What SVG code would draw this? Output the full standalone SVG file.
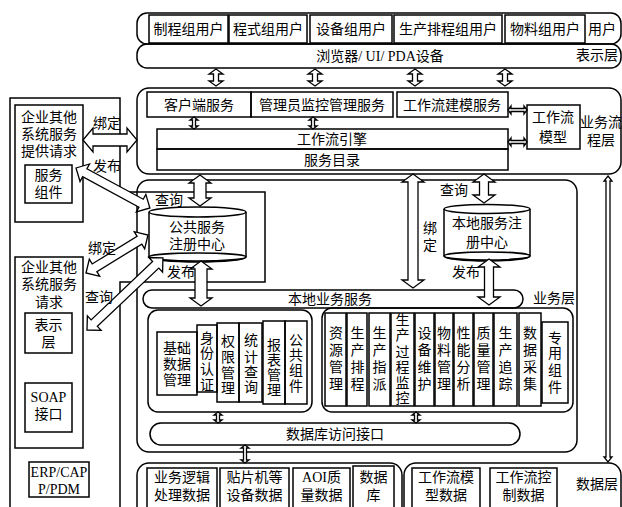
<svg xmlns="http://www.w3.org/2000/svg" width="622" height="507" viewBox="0 0 622 507">
<style>
.b{fill:none;stroke:#000;stroke-width:1.5}
.w{fill:#fff;stroke:#000;stroke-width:1.5}
.ar{fill:#fff;stroke:#000;stroke-width:1.3;stroke-linejoin:miter}
text{font-family:"Liberation Serif","Noto Sans CJK SC",sans-serif;font-size:14px;fill:#000}
.c{text-anchor:middle}
</style>
<rect width="622" height="507" fill="#fff"/>

<!-- left external panel outline -->
<g id="external-panel">
<path class="b" d="M10,98 H120 V192 H265 V282 H120 V515 H10 Z"/>
</g>

<!-- presentation / user layer -->
<g id="user-layer">
<rect class="b" x="137" y="13" width="484" height="31" rx="10"/>
<rect class="b" x="149" y="15" width="79" height="28"/><text class="c" x="188.5" y="34">制程组用户</text>
<rect class="b" x="229" y="15" width="78" height="28"/><text class="c" x="268" y="34">程式组用户</text>
<rect class="b" x="310" y="15" width="82" height="28"/><text class="c" x="351" y="34">设备组用户</text>
<rect class="b" x="394" y="15" width="108" height="28"/><text class="c" x="448" y="34">生产排程组用户</text>
<rect class="b" x="505" y="15" width="80" height="28"/><text class="c" x="545" y="34">物料组用户</text>
<text class="c" x="602" y="34">用户</text>
</g>
<g id="browser">
<rect class="b" x="137" y="44" width="484" height="24" rx="10"/>
<text class="c" x="380" y="61">浏览器/ UI/ PDA设备</text>
<text class="c" x="597" y="60">表示层</text>
</g>

<!-- business process layer -->
<g id="process-layer">
<rect class="b" x="137" y="88" width="484" height="86" rx="12"/>
<text x="580" y="127">业务流</text>
<text x="587" y="145">程层</text>
</g>
<g id="client-service"><rect class="b" x="147" y="92" width="104" height="25"/><text class="c" x="199" y="110">客户端服务</text></g>
<g id="admin-service"><rect class="b" x="251" y="92" width="142" height="25"/><text class="c" x="322" y="110">管理员监控管理服务</text></g>
<g id="modeling-service"><rect class="b" x="397" y="92" width="111" height="25"/><text class="c" x="452" y="110">工作流建模服务</text></g>
<g id="workflow-engine"><rect class="b" x="157" y="129" width="351" height="20"/><text class="c" x="332" y="144">工作流引擎</text></g>
<g id="service-catalog"><rect class="b" x="157" y="149" width="351" height="21"/><text class="c" x="332" y="165">服务目录</text></g>
<g id="workflow-model"><rect class="b" x="527" y="105" width="53" height="44"/><text class="c" x="553" y="122">工作流</text><text class="c" x="553" y="142">模型</text></g>

<!-- external boxes -->
<g id="ext-provider">
<rect class="b" x="15" y="105" width="68" height="117"/>
<text class="c" x="49" y="122">企业其他</text>
<text class="c" x="49" y="139">系统服务</text>
<text class="c" x="49" y="156">提供请求</text>
<rect class="b" x="25" y="165" width="47" height="38"/>
<text class="c" x="48.5" y="180">服务</text>
<text class="c" x="48.5" y="197">组件</text>
</g>
<g id="ext-requester">
<rect class="b" x="15" y="257" width="68" height="191"/>
<text class="c" x="49" y="272">企业其他</text>
<text class="c" x="49" y="289">系统服务</text>
<text class="c" x="49" y="307">请求</text>
<rect class="b" x="25" y="313" width="47" height="40"/>
<text class="c" x="48.5" y="330">表示</text>
<text class="c" x="48.5" y="347">层</text>
<rect class="b" x="25" y="383" width="47" height="49"/>
<text class="c" x="48.5" y="402">SOAP</text>
<text class="c" x="48.5" y="419">接口</text>
</g>
<g id="erp">
<rect class="b" x="29" y="462" width="60" height="35"/>
<text class="c" x="59" y="477">ERP/CAP</text>
<text class="c" x="59" y="494">P/PDM</text>
</g>

<!-- business layer -->
<g id="business-layer">
<rect class="b" x="137" y="180" width="440" height="272" rx="12"/>
<text x="533" y="303">业务层</text>
</g>
<g id="public-registry">
<path class="w" d="M149,212 V257 A48.5,5 0 0 0 246,257 V212"/>
<ellipse class="w" cx="197.5" cy="212" rx="48.5" ry="5"/>
<ellipse class="b" cx="197.5" cy="257" rx="48.5" ry="4"/>
<text class="c" x="197" y="232">公共服务</text>
<text class="c" x="197" y="249">注册中心</text>
</g>
<g id="local-registry">
<path class="w" d="M444,209 V256 A43,5 0 0 0 530,256 V209"/>
<ellipse class="w" cx="487" cy="209" rx="43" ry="4.5"/>
<ellipse class="b" cx="487" cy="256" rx="43" ry="4"/>
<text class="c" x="487" y="228">本地服务注</text>
<text class="c" x="487" y="247">册中心</text>
</g>
<g id="local-business-service">
<rect class="b" x="143" y="290" width="380" height="18" rx="9"/>
<text class="c" x="330" y="304">本地业务服务</text>
</g>

<g id="common-components">
<rect class="b" x="148" y="310" width="164" height="102" rx="10"/>
<rect class="b" x="157" y="332" width="40" height="63"/>
<text class="c" x="177" y="353">基础</text><text class="c" x="177" y="369">数据</text><text class="c" x="177" y="385">管理</text>
<rect class="b" x="197" y="325" width="20" height="67"/>
<text class="c" x="207"><tspan x="207" y="343">身</tspan><tspan x="207" y="358">份</tspan><tspan x="207" y="374">认</tspan><tspan x="207" y="390">证</tspan></text>
<rect class="b" x="217" y="323" width="22" height="79"/>
<text class="c"><tspan x="228" y="346">权</tspan><tspan x="228" y="362">限</tspan><tspan x="228" y="378">管</tspan><tspan x="228" y="393">理</tspan></text>
<rect class="b" x="239" y="323" width="23" height="79"/>
<text class="c"><tspan x="251" y="345">统</tspan><tspan x="251" y="362">计</tspan><tspan x="251" y="377">查</tspan><tspan x="251" y="392">询</tspan></text>
<rect class="b" x="263" y="321" width="22" height="83"/>
<text class="c"><tspan x="274" y="350">报</tspan><tspan x="274" y="365">表</tspan><tspan x="274" y="380">管</tspan><tspan x="274" y="395">理</tspan></text>
<rect class="b" x="285" y="321" width="22" height="83"/>
<text class="c"><tspan x="296" y="345">公</tspan><tspan x="296" y="360">共</tspan><tspan x="296" y="375">组</tspan><tspan x="296" y="391">件</tspan></text>
</g>

<g id="special-components">
<rect class="b" x="322" y="308" width="251" height="104" rx="10"/>
<rect class="b" x="325" y="313" width="21" height="93"/>
<text class="c"><tspan x="336" y="338">资</tspan><tspan x="336" y="355">源</tspan><tspan x="336" y="372">管</tspan><tspan x="336" y="389">理</tspan></text>
<rect class="b" x="347" y="313" width="20" height="93"/>
<text class="c"><tspan x="357.5" y="338">生</tspan><tspan x="357.5" y="355">产</tspan><tspan x="357.5" y="372">排</tspan><tspan x="357.5" y="389">程</tspan></text>
<rect class="b" x="369" y="313" width="21" height="93"/>
<text class="c"><tspan x="379.5" y="338">生</tspan><tspan x="379.5" y="355">产</tspan><tspan x="379.5" y="372">指</tspan><tspan x="379.5" y="389">派</tspan></text>
<rect class="b" x="391" y="313" width="23" height="93"/>
<text class="c"><tspan x="402.5" y="325">生</tspan><tspan x="402.5" y="340">产</tspan><tspan x="402.5" y="357">过</tspan><tspan x="402.5" y="372">程</tspan><tspan x="402.5" y="388">监</tspan><tspan x="402.5" y="403">控</tspan></text>
<rect class="b" x="415" y="313" width="19" height="93"/>
<text class="c"><tspan x="424.5" y="338">设</tspan><tspan x="424.5" y="355">备</tspan><tspan x="424.5" y="372">维</tspan><tspan x="424.5" y="389">护</tspan></text>
<rect class="b" x="435" y="313" width="18" height="93"/>
<text class="c"><tspan x="444" y="338">物</tspan><tspan x="444" y="355">料</tspan><tspan x="444" y="372">管</tspan><tspan x="444" y="389">理</tspan></text>
<rect class="b" x="454" y="313" width="19" height="93"/>
<text class="c"><tspan x="463.5" y="338">性</tspan><tspan x="463.5" y="355">能</tspan><tspan x="463.5" y="372">分</tspan><tspan x="463.5" y="389">析</tspan></text>
<rect class="b" x="474" y="313" width="19" height="93"/>
<text class="c"><tspan x="483.5" y="338">质</tspan><tspan x="483.5" y="355">量</tspan><tspan x="483.5" y="372">管</tspan><tspan x="483.5" y="389">理</tspan></text>
<rect class="b" x="494" y="313" width="23" height="93"/>
<text class="c"><tspan x="505.5" y="338">生</tspan><tspan x="505.5" y="355">产</tspan><tspan x="505.5" y="372">追</tspan><tspan x="505.5" y="389">踪</tspan></text>
<rect class="b" x="519" y="313" width="22" height="93"/>
<text class="c"><tspan x="530" y="338">数</tspan><tspan x="530" y="355">据</tspan><tspan x="530" y="372">采</tspan><tspan x="530" y="389">集</tspan></text>
<rect class="b" x="542" y="322" width="26" height="81"/>
<text class="c"><tspan x="555" y="343">专</tspan><tspan x="555" y="358">用</tspan><tspan x="555" y="375">组</tspan><tspan x="555" y="392">件</tspan></text>
</g>

<g id="db-access">
<rect class="b" x="150" y="423" width="370" height="22" rx="11"/>
<text class="c" x="335" y="439">数据库访问接口</text>
</g>

<!-- data layer -->
<g id="data-layer-left">
<rect class="b" x="137" y="463" width="265" height="60" rx="12"/>
<rect class="b" x="147" y="468" width="70" height="50"/><text class="c" x="182" y="482">业务逻辑</text><text class="c" x="182" y="500">处理数据</text>
<rect class="b" x="220" y="468" width="69" height="50"/><text class="c" x="254.5" y="482">贴片机等</text><text class="c" x="254.5" y="500">设备数据</text>
<rect class="b" x="293" y="468" width="57" height="50"/><text class="c" x="321.5" y="482">AOI质</text><text class="c" x="321.5" y="500">量数据</text>
<rect class="b" x="353" y="466" width="41" height="52"/><text class="c" x="373.5" y="482">数据</text><text class="c" x="373.5" y="500">库</text>
</g>
<g id="data-layer-right">
<rect class="b" x="404" y="463" width="217" height="60" rx="12"/>
<rect class="b" x="412" y="468" width="68" height="50"/><text class="c" x="446" y="482">工作流模</text><text class="c" x="446" y="500">型数据</text>
<rect class="b" x="490" y="468" width="67" height="50"/><text class="c" x="523.5" y="482">工作流控</text><text class="c" x="523.5" y="500">制数据</text>
<text class="c" x="597" y="489">数据层</text>
</g>

<!-- connectors -->
<g id="connectors">
<polygon class="ar" points="216,69 223,74 218.5,74 218.5,81 223,81 216,86 209,81 213.5,81 213.5,74 209,74"/>
<polygon class="ar" points="315,69 322,74 317.5,74 317.5,81 322,81 315,86 308,81 312.5,81 312.5,74 308,74"/>
<polygon class="ar" points="415,69 422,74 417.5,74 417.5,81 422,81 415,86 408,81 412.5,81 412.5,74 408,74"/>
<polygon class="ar" points="505,69 512,74 507.5,74 507.5,81 512,81 505,86 498,81 502.5,81 502.5,74 498,74"/>

<polygon class="ar" points="194,117 198,120 195.5,120 195.5,126 198,126 194,129 190,126 192.5,126 192.5,120 190,120"/>
<polygon class="ar" points="313,117 317,120 314.5,120 314.5,126 317,126 313,129 309,126 311.5,126 311.5,120 309,120"/>
<polygon class="ar" points="508,110 511,106 511,108.5 524,108.5 524,106 527,110 524,114 524,111.5 511,111.5 511,114"/>
<polygon class="ar" points="508,142 511,138 511,140.5 524,140.5 524,138 527,142 524,146 524,143.5 511,143.5 511,146"/>

<polygon class="ar" points="83,140 93,128 93,134 127,134 127,128 137,140 127,152 127,146 93,146 93,152"/>
<text x="93" y="128">绑定</text>
<text x="93" y="171">发布</text>
<polygon class="ar" transform="translate(76,168) rotate(28.4)" points="0,0 10,-10 10,-4.5 74,-4.5 74,-10 84,0 74,10 74,4.5 10,4.5 10,10"/>
<polygon class="ar" transform="translate(86,273) rotate(-31.5)" points="0,0 10,-10 10,-4.5 62.7,-4.5 62.7,-10 72.7,0 62.7,10 62.7,4.5 10,4.5 10,10"/>
<text x="88" y="253">绑定</text>
<polygon class="ar" transform="translate(87,330) rotate(-43.5)" points="0,0 10,-10 10,-4.5 94.7,-4.5 94.7,-10 104.7,0 94.7,10 94.7,4.5 10,4.5 10,10"/>
<text x="85" y="302">查询</text>

<polygon class="ar" points="200,175 211,183 206,183 206,198 211,198 200,206 189,198 194,198 194,183 189,183"/>
<text x="155" y="205">查询</text>
<polygon class="ar" points="201,261 212,269 207,269 207,298 212,298 201,306 190,298 195,298 195,269 190,269"/>
<text x="167" y="277">发布</text>

<polygon class="ar" points="413,174 424,182 418,182 418,280 424,280 413,288 402,280 408,280 408,182 402,182"/>
<text class="c" x="430" y="233">绑</text>
<text class="c" x="430" y="250">定</text>
<polygon class="ar" points="484,174 495,182 488.5,182 488.5,195 495,195 484,203 473,195 479.5,195 479.5,182 473,182"/>
<text x="440" y="195">查询</text>
<polygon class="ar" points="489,259 500,267 493.5,267 493.5,297 500,297 489,305 478,297 484.5,297 484.5,267 478,267"/>
<text x="452" y="277">发布</text>

<polygon class="ar" points="608,176 612,181 610,181 610,457 612,457 608,462 604,457 606,457 606,181 604,181"/>
<polygon class="ar" points="218,412 222,415 219.5,415 219.5,420 222,420 218,423 214,420 216.5,420 216.5,415 214,415"/>
<polygon class="ar" points="416,412 420,415 417.5,415 417.5,420 420,420 416,423 412,420 414.5,420 414.5,415 412,415"/>
<polygon class="ar" points="245,445 249,448 246.5,448 246.5,460 249,460 245,463 241,460 243.5,460 243.5,448 241,448"/>
</g>
</svg>
